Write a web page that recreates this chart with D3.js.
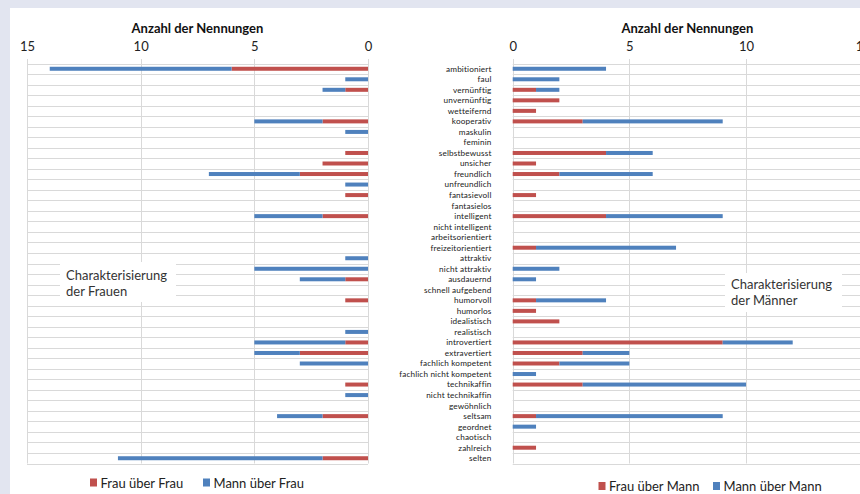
<!DOCTYPE html>
<html>
<head>
<meta charset="utf-8">
<script src="https://cdn.jsdelivr.net/npm/d3@7"></script>
<style>
  html, body { margin: 0; padding: 0; background: #e2e5f0; }
  svg { display: block; font-family: Lato, "Open Sans", sans-serif; }
</style>
</head>
<body>
<svg id="chart" width="860" height="494"></svg>
<script>
// Eigenschaften (Reihenfolge von oben nach unten)
const categories = [
  "ambitioniert", "faul", "vernünftig", "unvernünftig", "wetteifernd", "kooperativ",
  "maskulin", "feminin", "selbstbewusst", "unsicher", "freundlich", "unfreundlich",
  "fantasievoll", "fantasielos", "intelligent", "nicht intelligent", "arbeitsorientiert",
  "freizeitorientiert", "attraktiv", "nicht attraktiv", "ausdauernd", "schnell aufgebend",
  "humorvoll", "humorlos", "idealistisch", "realistisch", "introvertiert", "extravertiert",
  "fachlich kompetent", "fachlich nicht kompetent", "technikaffin", "nicht technikaffin",
  "gewöhnlich", "seltsam", "geordnet", "chaotisch", "zahlreich", "selten"
];

// Charakterisierung der Frauen
const frauUeberFrau = [6,0,1,0,0,2, 0,0,1,2,3,0, 1,0,2,0,0, 0,0,0,1,0, 1,0,0,0,1,3, 0,0,1,0, 0,2,0,0,0,2];
const mannUeberFrau = [8,1,1,0,0,3, 1,0,0,0,4,1, 0,0,3,0,0, 0,1,5,2,0, 0,0,0,1,4,2, 3,0,0,1, 0,2,0,0,0,9];

// Charakterisierung der Männer
const frauUeberMann = [0,0,1,2,1,3, 0,0,4,1,2,0, 1,0,4,0,0, 1,0,0,0,0, 1,1,2,0,9,3, 2,0,3,0, 0,1,0,0,1,0];
const mannUeberMann = [4,2,1,0,0,6, 0,0,2,0,4,0, 0,0,5,0,0, 6,0,2,1,0, 3,0,0,0,3,2, 3,1,7,0, 0,8,1,0,0,0];

const tickValues = [0, 5, 10, 15];
const axisTitle = "Anzahl der Nennungen";

const colRed = "#c0504d", colBlue = "#4f81bd", colGrid = "#d9d9d9";

const svg = d3.select("#chart");

// weiße Zeichenfläche
svg.append("rect").attr("x", 10).attr("y", 8).attr("width", 850).attr("height", 486).attr("fill", "#ffffff");

const y = d3.scaleBand().domain(categories).range([63.5, 463.5]);
const barH = 4;

function panel(opts) {
  const { x, first, second, firstName, secondName, lineX0, lineX1, legend, box } = opts;
  const g = svg.append("g");

  // horizontale Trennlinien zwischen den Kategorien
  const bounds = categories.map(c => y(c)).concat([y.range()[1]]);
  g.selectAll("line.h").data(bounds).join("line")
    .attr("x1", lineX0).attr("x2", lineX1)
    .attr("y1", d => Math.round(d) + 0.5).attr("y2", d => Math.round(d) + 0.5)
    .attr("stroke", colGrid).attr("stroke-width", 1);

  // vertikale Gitterlinien
  g.selectAll("line.v").data(tickValues).join("line")
    .attr("x1", d => Math.round(x(d)) + 0.5).attr("x2", d => Math.round(x(d)) + 0.5)
    .attr("y1", 59).attr("y2", 463.5)
    .attr("stroke", colGrid).attr("stroke-width", 1);

  // Achse oben
  const axis = d3.axisTop(x).tickValues(tickValues).tickSize(0).tickPadding(0);
  const ax = g.append("g").attr("transform", "translate(0,51)").call(axis);
  ax.select(".domain").remove();
  ax.selectAll("text").attr("font-size", 13).attr("fill", "#222").attr("font-family", "Lato, sans-serif").attr("dy", 0);

  const [r0, r1] = x.range();
  g.append("text").attr("x", (r0 + Math.min(r1, 862)) / 2).attr("y", 32.5)
    .attr("text-anchor", "middle").attr("font-size", 13).attr("font-weight", "bold").attr("fill", "#111")
    .text(axisTitle);

  // gestapelte Balken
  const rows = categories.map((c, i) => ({ c, a: first[i], b: second[i] }));
  const barY = d => y(d.c) + y.bandwidth() / 2 - barH / 2;
  g.selectAll("rect.a").data(rows.filter(d => d.a > 0)).join("rect")
    .attr("x", d => Math.min(x(0), x(d.a))).attr("width", d => Math.abs(x(d.a) - x(0)))
    .attr("y", barY).attr("height", barH).attr("fill", colRed);
  g.selectAll("rect.b").data(rows.filter(d => d.b > 0)).join("rect")
    .attr("x", d => Math.min(x(d.a), x(d.a + d.b))).attr("width", d => Math.abs(x(d.a + d.b) - x(d.a)))
    .attr("y", barY).attr("height", barH).attr("fill", colBlue);

  // Textfeld
  g.append("rect").attr("x", box.x).attr("y", box.y).attr("width", box.w).attr("height", box.h).attr("fill", "#fff");
  box.lines.forEach((t, i) => {
    g.append("text").attr("x", box.x + 6).attr("y", box.y + box.base + i * 16)
      .attr("font-size", 13).attr("fill", "#333").text(t);
  });

  // Legende
  [[firstName, colRed], [secondName, colBlue]].forEach(([name, col], i) => {
    const lx = legend.x[i];
    g.append("rect").attr("x", lx).attr("y", legend.y - 9).attr("width", 7).attr("height", 8).attr("fill", col);
    g.append("text").attr("x", lx + 10.5).attr("y", legend.y).attr("font-size", 13).attr("fill", "#222").text(name);
  });
}

const xL = d3.scaleLinear().domain([0, 15]).range([368, 27]);
const xR = d3.scaleLinear().domain([0, 15]).range([512.7, 862.7]);

panel({
  x: xL, first: frauUeberFrau, second: mannUeberFrau,
  firstName: "Frau über Frau", secondName: "Mann über Frau",
  lineX0: 27, lineX1: 368,
  legend: { x: [90, 203], y: 487.5 },
  box: { x: 60, y: 262, w: 116, h: 40, base: 17.5, lines: ["Charakterisierung", "der Frauen"] }
});

panel({
  x: xR, first: frauUeberMann, second: mannUeberMann,
  firstName: "Frau über Mann", secondName: "Mann über Mann",
  lineX0: 512.7, lineX1: 860,
  legend: { x: [598.5, 713], y: 491 },
  box: { x: 725, y: 273, w: 117, h: 39, base: 15.5, lines: ["Charakterisierung", "der Männer"] }
});

// Kategorienbeschriftung in der Mitte
svg.append("g").selectAll("text").data(categories).join("text")
  .attr("x", 491.5).attr("y", d => y(d) + y.bandwidth() / 2 + 2.9)
  .attr("text-anchor", "end").attr("font-size", 8.2).attr("fill", "#1a1a1a")
  .attr("letter-spacing", 0.15)
  .text(d => d);
</script>
</body>
</html>
